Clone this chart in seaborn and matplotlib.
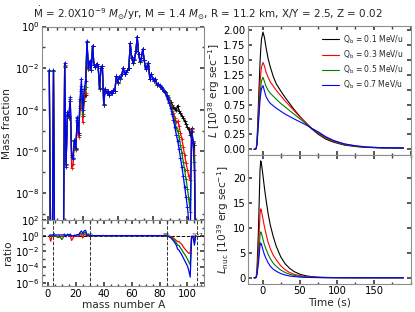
import numpy as np
import pandas as pd
import matplotlib
matplotlib.use("Agg")
import matplotlib.pyplot as plt
import seaborn as sns
from matplotlib.ticker import FixedLocator, LogLocator, AutoMinorLocator, NullFormatter, FormatStrFormatter

# ---------------- data ----------------
series_labels = ["Q$_{\\rm b}$ = 0.1 MeV/u", "Q$_{\\rm b}$ = 0.3 MeV/u",
                 "Q$_{\\rm b}$ = 0.5 MeV/u", "Q$_{\\rm b}$ = 0.7 MeV/u"]
series_colors = ["black", "red", "green", "blue"]

mass_number = np.arange(1, 107)

logX_q01 = [-2.15, -12.5, -12.5, -2.15, -13.0, -12.8, -12.0, -13.0, -12.5, -12.2,
            -11.8, -1.95, -6.6, -4.3, -4.4, -3.6, -6.2, -6.3, -5.5, -5.9,
            -4.5, -5.2, -3.9, -3.1, -4.3, -3.6, -3.3, -0.75, -2.05, -1.7,
            -2.1, -0.95, -1.85, -1.95, -1.8, -1.9, -3.0, -2.0, -1.9, -3.75,
            -3.0, -3.2, -3.1, -3.3, -3.15, -3.2, -3.05, -3.1, -2.4, -2.7,
            -2.45, -2.5, -2.3, -2.0, -2.3, -2.2, -2.1, -2.0, -0.8, -1.5,
            -1.75, -1.6, -1.2, -0.5, -1.3, -1.7, -1.5, -1.1, -1.6, -2.05,
            -1.9, -1.75, -2.5, -2.3, -2.5, -2.6, -2.5, -2.8, -2.75, -2.85,
            -2.9, -3.0, -3.1, -3.15, -3.3, -3.4, -3.55, -3.65, -3.75, -3.85,
            -3.95, -4.0, -3.8, -4.05, -4.15, -4.3, -4.4, -4.55, -4.7, -4.85,
            -4.95, -5.2, -4.9, -5.5, -5.7, -12.0]

logX_q03 = [-2.15, -13.2, -12.5, -2.15, -13.0, -12.9, -12.2, -13.0, -12.6, -12.3,
            -11.9, -1.9, -6.65, -4.25, -4.4, -3.6, -6.8, -6.6, -5.5, -5.95,
            -4.6, -5.3, -3.8, -3.0, -4.6, -3.4, -3.2, -0.75, -2.05, -1.7,
            -2.1, -0.95, -1.85, -1.95, -1.8, -1.9, -3.0, -2.0, -1.9, -3.75,
            -3.0, -3.2, -3.1, -3.3, -3.15, -3.2, -3.05, -3.1, -2.4, -2.7,
            -2.45, -2.5, -2.3, -2.0, -2.3, -2.2, -2.1, -2.0, -0.8, -1.5,
            -1.75, -1.6, -1.2, -0.5, -1.3, -1.7, -1.5, -1.1, -1.6, -2.05,
            -1.9, -1.75, -2.5, -2.3, -2.5, -2.6, -2.5, -2.8, -2.75, -2.85,
            -2.9, -3.0, -3.1, -3.15, -3.3, -3.45, -3.6, -3.75, -3.95, -4.15,
            -4.4, -4.6, -4.55, -4.8, -5.1, -5.4, -5.8, -6.2, -6.55, -6.9,
            -7.2, -7.4, -4.95, -5.55, -6.2, -12.0]

logX_q05 = [-2.15, -12.5, -12.6, -2.15, -13.1, -12.8, -12.2, -13.2, -12.7, -12.7,
            -12.0, -1.85, -6.6, -4.2, -4.35, -3.5, -6.2, -6.3, -5.45, -5.9,
            -4.4, -5.1, -3.6, -2.85, -4.2, -3.2, -2.9, -0.73, -2.0, -1.68,
            -2.1, -0.95, -1.85, -1.95, -1.8, -1.9, -3.0, -2.0, -1.9, -3.75,
            -3.0, -3.2, -3.1, -3.3, -3.15, -3.2, -3.05, -3.1, -2.4, -2.7,
            -2.45, -2.5, -2.3, -2.0, -2.3, -2.2, -2.1, -2.0, -0.8, -1.5,
            -1.75, -1.6, -1.2, -0.5, -1.3, -1.7, -1.5, -1.1, -1.6, -2.05,
            -1.9, -1.75, -2.5, -2.3, -2.5, -2.6, -2.5, -2.8, -2.75, -2.85,
            -2.9, -3.0, -3.1, -3.15, -3.3, -3.45, -3.65, -3.8, -4.05, -4.3,
            -4.6, -4.9, -5.0, -5.3, -5.7, -6.1, -6.5, -6.9, -7.35, -7.8,
            -8.3, -8.9, -5.05, -5.6, -6.5, -12.0]

logX_q07 = [-2.1, -12.4, -12.4, -2.1, -12.9, -12.7, -11.9, -12.9, -12.4, -12.1,
            -11.7, -1.75, -6.75, -4.1, -4.3, -3.4, -6.25, -6.35, -5.45, -5.85,
            -4.35, -5.1, -3.5, -2.5, -4.0, -3.0, -2.6, -0.7, -1.95, -1.65,
            -2.08, -0.93, -1.83, -1.95, -1.78, -1.9, -2.97, -2.0, -1.88, -3.72,
            -3.0, -3.18, -3.1, -3.28, -3.15, -3.18, -3.05, -3.08, -2.4, -2.68,
            -2.45, -2.48, -2.3, -1.98, -2.3, -2.18, -2.1, -1.98, -0.8, -1.48,
            -1.75, -1.58, -1.2, -0.48, -1.3, -1.68, -1.5, -1.08, -1.6, -2.03,
            -1.9, -1.73, -2.5, -2.28, -2.5, -2.58, -2.5, -2.78, -2.75, -2.83,
            -2.9, -2.98, -3.1, -3.13, -3.32, -3.5, -3.7, -3.9, -4.2, -4.5,
            -4.85, -5.2, -5.5, -5.9, -6.3, -6.75, -7.2, -7.7, -8.2, -8.7,
            -9.4, -10.45, -5.0, -5.6, -6.9, -12.0]

divider_A = [4, 30, 85, 107]

time_s = [-12, -10, -9, -8, -6, -4, -3, -2, 0, 2, 4, 7, 10, 14, 18, 24, 30, 36, 42,
          50, 58, 66, 75, 85, 95, 110, 125, 140, 160, 190]

L_q01 = [0, 0, 0.02, 0.15, 0.8, 1.45, 1.68, 1.85, 1.97, 1.88, 1.72, 1.52, 1.38, 1.22, 1.10,
         0.98, 0.87, 0.77, 0.67, 0.55, 0.44, 0.34, 0.25, 0.17, 0.12, 0.07, 0.045, 0.03, 0.022, 0.018]
L_q03 = [0, 0, 0.02, 0.12, 0.6, 1.1, 1.27, 1.38, 1.46, 1.40, 1.30, 1.21, 1.13, 1.06, 0.99,
         0.90, 0.81, 0.73, 0.65, 0.54, 0.45, 0.35, 0.27, 0.19, 0.13, 0.08, 0.05, 0.033, 0.024, 0.019]
L_q05 = [0, 0, 0.02, 0.1, 0.5, 0.92, 1.05, 1.15, 1.21, 1.14, 1.06, 0.99, 0.94, 0.89, 0.84,
         0.77, 0.71, 0.65, 0.59, 0.51, 0.43, 0.35, 0.28, 0.20, 0.14, 0.085, 0.055, 0.035, 0.025, 0.02]
L_q07 = [0, 0, 0.02, 0.09, 0.45, 0.82, 0.93, 1.02, 1.07, 0.98, 0.89, 0.82, 0.77, 0.73, 0.69,
         0.64, 0.59, 0.55, 0.51, 0.46, 0.41, 0.35, 0.29, 0.21, 0.15, 0.09, 0.058, 0.037, 0.026, 0.02]

Lnuc_q01 = [0, 0, 0.3, 2, 10, 21.5, 23.4, 22.8, 20.5, 18, 15.8, 12.8, 10.5, 8.2, 6.3,
            4.2, 2.8, 1.9, 1.25, 0.7, 0.4, 0.22, 0.12, 0.07, 0.04, 0.02, 0.01, 0.01, 0.005, 0.005]
Lnuc_q03 = [0, 0, 0.2, 1.3, 6, 12.8, 13.8, 13.4, 11.8, 10.2, 8.9, 7.1, 5.8, 4.5, 3.6,
            2.4, 1.6, 1.05, 0.7, 0.4, 0.22, 0.12, 0.07, 0.04, 0.025, 0.012, 0.006, 0.004, 0.003, 0.002]
Lnuc_q05 = [0, 0, 0.15, 0.9, 4, 8.5, 9.2, 8.9, 7.7, 6.6, 5.8, 4.7, 3.8, 2.9, 2.3,
            1.55, 1.05, 0.7, 0.47, 0.28, 0.16, 0.09, 0.05, 0.03, 0.02, 0.01, 0.005, 0.003, 0.002, 0.002]
Lnuc_q07 = [0, 0, 0.1, 0.7, 3, 6.4, 7.0, 6.7, 5.6, 4.6, 3.9, 3.0, 2.3, 1.7, 1.3,
            0.85, 0.55, 0.36, 0.24, 0.14, 0.08, 0.05, 0.03, 0.02, 0.01, 0.006, 0.003, 0.002, 0.002, 0.001]

# ---------------- tables ----------------
logX_all = [logX_q01, logX_q03, logX_q05, logX_q07]
L_all = [L_q01, L_q03, L_q05, L_q07]
Lnuc_all = [Lnuc_q01, Lnuc_q03, Lnuc_q05, Lnuc_q07]

abund_frames = []
for lab, lx in zip(series_labels, logX_all):
    lx = np.asarray(lx)
    ratio = 10.0 ** (lx - np.asarray(logX_q01))
    abund_frames.append(pd.DataFrame({"A": mass_number, "X": 10.0 ** lx,
                                      "ratio": ratio, "series": lab}))
abund = pd.concat(abund_frames, ignore_index=True)

lc_frames = []
for lab, l, ln in zip(series_labels, L_all, Lnuc_all):
    lc_frames.append(pd.DataFrame({"t": time_s, "L": l, "Lnuc": ln, "series": lab}))
lc = pd.concat(lc_frames, ignore_index=True)

# ---------------- style ----------------
sns.set_theme(style="ticks")
plt.rcParams.update({
    "font.family": ["DejaVu Sans"],
    "xtick.direction": "in", "ytick.direction": "in",
    "xtick.top": True, "ytick.right": True,
    "xtick.labelsize": 7.2, "ytick.labelsize": 7.2,
    "axes.labelsize": 7.6,
    "axes.edgecolor": "0.55", "axes.linewidth": 0.8,
    "xtick.color": "0.25", "ytick.color": "0.25",
    "xtick.labelcolor": "black", "ytick.labelcolor": "black",
    "xtick.major.size": 3, "ytick.major.size": 3,
    "xtick.minor.size": 1.8, "ytick.minor.size": 1.8,
    "xtick.major.pad": 2, "ytick.major.pad": 2,
    "mathtext.default": "regular",
})

fig = plt.figure(figsize=(4.15, 3.12), dpi=100)
ax_m = fig.add_axes([0.102, 0.295, 0.390, 0.620])
ax_r = fig.add_axes([0.102, 0.083, 0.390, 0.212])
ax_L = fig.add_axes([0.598, 0.503, 0.392, 0.413])
ax_N = fig.add_axes([0.598, 0.091, 0.392, 0.412])

palette = dict(zip(series_labels, series_colors))

# mass fractions
for lab in series_labels:
    d = abund[abund.series == lab]
    sns.lineplot(data=d, x="A", y="X", ax=ax_m, color=palette[lab], lw=0.9,
                 marker="+", markersize=2.3, markeredgewidth=0.6,
                 markeredgecolor=palette[lab], estimator=None, sort=False, legend=False)
ax_m.set_yscale("log")
ax_m.set_ylim(5e-10, 1)
ax_m.set_xlim(-4, 112)
ax_m.yaxis.set_major_locator(FixedLocator([1e-8, 1e-6, 1e-4, 1e-2, 1e0]))
ax_m.yaxis.set_minor_locator(LogLocator(base=10, subs=(1.0,), numticks=30))
ax_m.yaxis.set_minor_formatter(NullFormatter())
ax_m.xaxis.set_minor_locator(AutoMinorLocator(4))
ax_m.tick_params(labelbottom=False)
ax_m.set_xlabel("")
ax_m.set_ylabel("Mass fraction", labelpad=2)

# ratio panel
ax_r.axhline(1.0, color="black", ls="--", lw=0.7)
for x in divider_A:
    ax_r.axvline(x, color="0.2", ls="--", lw=0.7)
for lab in series_labels[1:]:
    d = abund[abund.series == lab]
    sns.lineplot(data=d, x="A", y="ratio", ax=ax_r, color=palette[lab], lw=0.9,
                 estimator=None, sort=False, legend=False)
for x in divider_A:
    ax_r.text(x, 1.0, str(x), fontsize=4.5, ha="center", va="center", color="0.2")
ax_r.set_yscale("log")
ax_r.set_ylim(4e-7, 1e2)
ax_r.set_xlim(-4, 112)
ax_r.yaxis.set_major_locator(FixedLocator([1e-6, 1e-4, 1e-2, 1e0, 1e2]))
ax_r.yaxis.set_minor_locator(LogLocator(base=10, subs=(1.0,), numticks=30))
ax_r.yaxis.set_minor_formatter(NullFormatter())
ax_r.set_xticks([0, 20, 40, 60, 80, 100])
ax_r.xaxis.set_minor_locator(AutoMinorLocator(4))
ax_r.set_xlabel("mass number A", labelpad=0.5)
ax_r.set_ylabel("ratio", labelpad=1)

# luminosity
for lab in series_labels:
    d = lc[lc.series == lab]
    sns.lineplot(data=d, x="t", y="L", ax=ax_L, color=palette[lab], lw=0.8,
                 estimator=None, sort=False, label=lab)
ax_L.set_xlim(-20, 200)
ax_L.set_yticks([0, 0.25, 0.5, 0.75, 1.0, 1.25, 1.5, 1.75, 2.0])
ax_L.yaxis.set_major_formatter(FormatStrFormatter("%.2f"))
ax_L.xaxis.set_minor_locator(AutoMinorLocator(2))
ax_L.tick_params(labelbottom=False)
ax_L.set_xlabel("")
ax_L.set_ylabel(r"$\it{L}$ [10$^{38}$ erg sec$^{-1}$]", labelpad=1)
ax_L.legend(loc="upper right", frameon=False, fontsize=5.5, handlelength=2.2,
            handletextpad=0.6, borderaxespad=0.5, labelspacing=0.35)

for lab in series_labels:
    d = lc[lc.series == lab]
    sns.lineplot(data=d, x="t", y="Lnuc", ax=ax_N, color=palette[lab], lw=0.8,
                 estimator=None, sort=False, legend=False)
ax_N.set_xlim(-20, 200)
ax_N.set_xticks([0, 50, 100, 150])
ax_N.set_yticks([0, 5, 10, 15, 20])
ax_N.xaxis.set_minor_locator(AutoMinorLocator(2))
ax_N.set_xlabel("Time (s)", labelpad=0.5)
ax_N.set_ylabel(r"$\it{L}_{\rm nuc}$ [10$^{39}$ erg sec$^{-1}$]", labelpad=1)

fig.text(0.502, 0.958,
         r"$\dot{\rm M}$ = 2.0X10$^{-9}$ $\it{M}_{\odot}$/yr, M = 1.4 $\it{M}_{\odot}$, "
         r"R = 11.2 km, X/Y = 2.5, Z = 0.02",
         ha="center", va="center", fontsize=7.5)

fig.savefig("out.png", dpi=100)
